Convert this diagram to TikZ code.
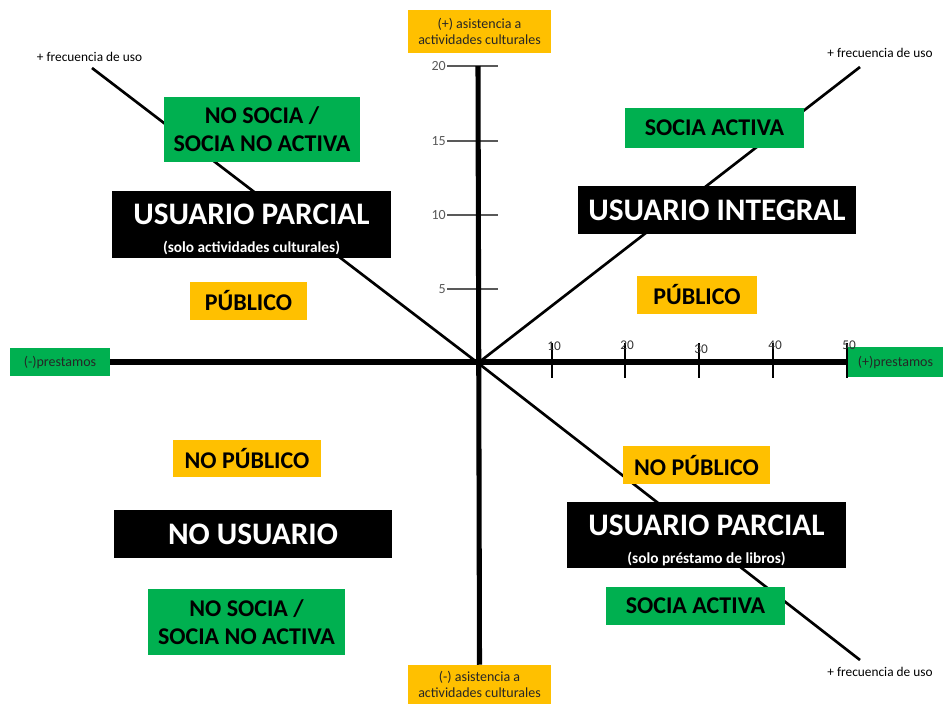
\documentclass[tikz,border=0pt]{standalone}
\usepackage{fontspec}
\setmainfont{Carlito}
\definecolor{gr}{HTML}{00B050}
\definecolor{og}{HTML}{FFC000}
\definecolor{tk}{HTML}{595959}
\newcommand\subtxt{\fontsize{11.5}{13}\selectfont\bfseries}
\begin{document}
\begin{tikzpicture}[x=0.75pt,y=-0.75pt,
  wh/.style 2 args={minimum width=#1*0.75pt, minimum height=#2*0.75pt, inner sep=0pt},
  gbox/.style={fill=gr, text=black, font=\fontsize{18}{21}\selectfont\bfseries, align=center},
  obox/.style={fill=og, text=black, font=\fontsize{18}{21}\selectfont\bfseries, align=center},
  bbox/.style={fill=black, text=white, font=\fontsize{23.5}{25}\selectfont\bfseries, align=center},
  btxt/.style={text=white, font=\fontsize{23.5}{25}\selectfont\bfseries, align=center, inner sep=0pt},
  axlab/.style={font=\fontsize{10.5}{12.5}\selectfont, align=center, text=black!85},
  freq/.style={font=\fontsize{10}{12}\selectfont, text=black},
  axis/.style={line width=3.8pt},
  diag/.style={line width=2pt},
  vtick/.style={line width=1pt, draw=tk},
  htick/.style={line width=1pt, draw=black},
  tlab/.style={font=\fontsize{10.5}{12}\selectfont, text=tk, inner sep=0pt}]
\useasboundingbox (0,0) rectangle (945,704);
% axis end labels
\node[fill=og, wh={143}{43}, axlab] (top) at (479.5,31.5) {(+) asistencia a\\actividades culturales};
\node[fill=og, wh={143}{39}, axlab] (bot) at (479.5,684.5) {(-) asistencia a\\actividades culturales};
\node[fill=gr, wh={100}{28}, axlab] (lft) at (60,362) {(-)prestamos};
\node[fill=gr, wh={95}{30}, axlab] (rgt) at (895.5,362) {(+)prestamos};
% coordinates
\coordinate (O) at (478,363);
\coordinate (vtop) at (478,66);
\coordinate (tl) at (92,68);
\coordinate (tr) at (860,67);
\coordinate (br) at (860,660);
% frequency labels
\node[freq] (ftl) at (89.5,57) {+ frecuencia de uso};
\node[freq] (ftr) at (880,53) {+ frecuencia de uso};
\node[freq] (fbr) at (880,672) {+ frecuencia de uso};
% diagonals
\draw[diag] (tl) -- (O);
\draw[diag] (tr) -- (O);
\draw[diag] (O) -- (br);
% vertical ticks
\foreach \yy/\v in {66/20,141/15,215/10,289/5}{
  \draw[vtick] (447,\yy) -- (498,\yy);
  \node[tlab, anchor=east] at (446,\yy) {\v};
}
% horizontal ticks
\foreach \xx/\v/\ly in {552/10/346,625/20/345,699/30/349,773/40/345,847/50/345}{
  \draw[htick] (\xx,343) -- (\xx,378);
  \node[tlab, font=\fontsize{10}{12}\selectfont, text=black!80] at (\xx+2,\ly) {\v};
}
% axes
\draw[axis] (vtop) -- (bot.north);
\draw[axis] (lft.east) -- (lft.east -| rgt.west);
% boxes
\node[gbox, wh={196}{65}] (g1) at (262,129.5) {NO SOCIA /\\SOCIA NO ACTIVA};
\node[bbox, wh={279}{67}] (b1) at (251.5,224.5) {};
\node[btxt] (b1t) at ([yshift=-3.5pt]b1.center) {USUARIO PARCIAL\\[-4pt]{\subtxt (solo actividades culturales)}};
\node[obox, wh={117}{38}] (o1) at (248.5,301) {PÚBLICO};
\node[gbox, wh={179}{40}] (g2) at (714.5,128) {SOCIA ACTIVA};
\node[bbox, wh={278}{48}] (b2) at (717,210) {USUARIO INTEGRAL};
\node[obox, wh={120}{38}] (o2) at (697,295) {PÚBLICO};
\node[obox, wh={148}{37}] (o3) at (247,458.5) {NO PÚBLICO};
\node[bbox, wh={278}{48}] (b3) at (253,534) {NO USUARIO};
\node[gbox, wh={197}{66}] (g3) at (246.5,622) {NO SOCIA /\\SOCIA NO ACTIVA};
\node[obox, wh={147}{38}] (o4) at (696.5,465) {NO PÚBLICO};
\node[bbox, wh={279}{66}] (b4) at (706.5,535) {};
\node[btxt] (b4t) at ([yshift=-4pt]b4.center) {USUARIO PARCIAL\\[-4pt]{\subtxt (solo préstamo de libros)}};
\node[gbox, wh={179}{38}] (g4) at (695.5,606) {SOCIA ACTIVA};
\end{tikzpicture}
\end{document}
